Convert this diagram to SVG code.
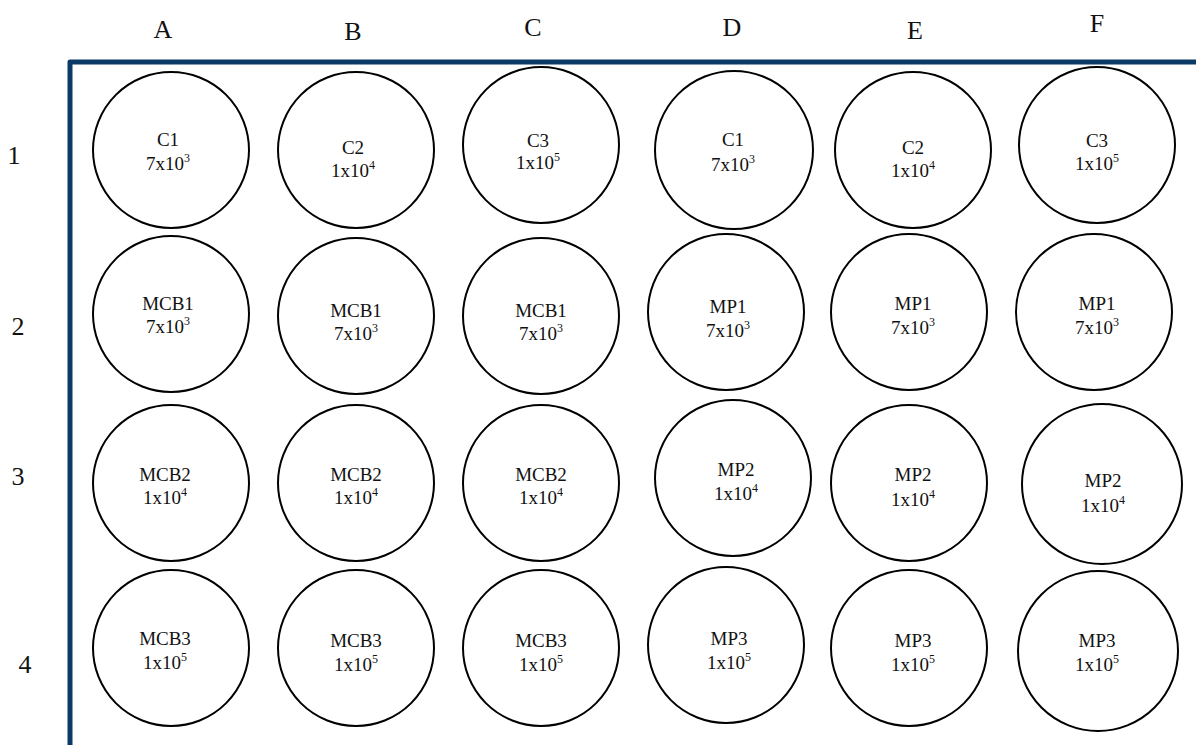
<svg xmlns="http://www.w3.org/2000/svg" width="1196" height="745" viewBox="0 0 1196 745">
<style>
.well{fill:#fff;stroke:#000;stroke-width:2}
.lbl{font-family:"Liberation Serif","Times New Roman",serif;font-size:19px;fill:#111;text-anchor:middle}
.sup{font-size:12px}
.hdr{font-family:"Liberation Serif","Times New Roman",serif;font-size:26px;fill:#111;text-anchor:middle}
</style>
<rect width="1196" height="745" fill="#fff"/>
<g id="plate-border">
<path d="M70,745 V62 H1196" fill="none" stroke="#0b3a66" stroke-width="5" stroke-linejoin="round"/>
</g>
<g id="column-headers">
<text class="hdr" x="163" y="38">A</text>
<text class="hdr" x="353" y="40">B</text>
<text class="hdr" x="533" y="36">C</text>
<text class="hdr" x="732" y="36">D</text>
<text class="hdr" x="915" y="39">E</text>
<text class="hdr" x="1097" y="32">F</text>
</g>
<g id="row-headers">
<text class="hdr" x="14" y="164">1</text>
<text class="hdr" x="18" y="335">2</text>
<text class="hdr" x="18" y="485">3</text>
<text class="hdr" x="25" y="673">4</text>
</g>
<g id="connectors"/>
<!-- Row 1 -->
<g id="A1"><circle class="well" cx="171" cy="150" r="78"/><text class="lbl" x="168" y="146">C1</text><text class="lbl" x="168" y="170">7x10<tspan class="sup" dy="-8">3</tspan></text></g>
<g id="B1"><circle class="well" cx="356" cy="150" r="78"/><text class="lbl" x="353" y="154">C2</text><text class="lbl" x="353" y="177">1x10<tspan class="sup" dy="-8">4</tspan></text></g>
<g id="C1"><circle class="well" cx="541" cy="145" r="78"/><text class="lbl" x="538" y="147">C3</text><text class="lbl" x="538" y="169">1x10<tspan class="sup" dy="-8">5</tspan></text></g>
<g id="D1"><circle class="well" cx="734" cy="150" r="79"/><text class="lbl" x="733" y="146">C1</text><text class="lbl" x="733" y="171">7x10<tspan class="sup" dy="-8">3</tspan></text></g>
<g id="E1"><circle class="well" cx="913" cy="150" r="78"/><text class="lbl" x="913" y="154">C2</text><text class="lbl" x="913" y="177">1x10<tspan class="sup" dy="-8">4</tspan></text></g>
<g id="F1"><circle class="well" cx="1097" cy="145" r="78"/><text class="lbl" x="1097" y="147">C3</text><text class="lbl" x="1097" y="170">1x10<tspan class="sup" dy="-8">5</tspan></text></g>
<!-- Row 2 -->
<g id="A2"><circle class="well" cx="171" cy="314" r="78"/><text class="lbl" x="168" y="310">MCB1</text><text class="lbl" x="168" y="333">7x10<tspan class="sup" dy="-8">3</tspan></text></g>
<g id="B2"><circle class="well" cx="356" cy="316" r="78"/><text class="lbl" x="356" y="317">MCB1</text><text class="lbl" x="356" y="340">7x10<tspan class="sup" dy="-8">3</tspan></text></g>
<g id="C2"><circle class="well" cx="541" cy="316" r="78"/><text class="lbl" x="541" y="317">MCB1</text><text class="lbl" x="541" y="340">7x10<tspan class="sup" dy="-8">3</tspan></text></g>
<g id="D2"><circle class="well" cx="726" cy="312" r="78"/><text class="lbl" x="728" y="313">MP1</text><text class="lbl" x="728" y="337">7x10<tspan class="sup" dy="-8">3</tspan></text></g>
<g id="E2"><circle class="well" cx="909" cy="312" r="78"/><text class="lbl" x="913" y="310">MP1</text><text class="lbl" x="913" y="334">7x10<tspan class="sup" dy="-8">3</tspan></text></g>
<g id="F2"><circle class="well" cx="1094" cy="312" r="78"/><text class="lbl" x="1097" y="310">MP1</text><text class="lbl" x="1097" y="334">7x10<tspan class="sup" dy="-8">3</tspan></text></g>
<!-- Row 3 -->
<g id="A3"><circle class="well" cx="171" cy="483" r="78"/><text class="lbl" x="165" y="481">MCB2</text><text class="lbl" x="165" y="504">1x10<tspan class="sup" dy="-8">4</tspan></text></g>
<g id="B3"><circle class="well" cx="356" cy="483" r="78"/><text class="lbl" x="356" y="481">MCB2</text><text class="lbl" x="356" y="504">1x10<tspan class="sup" dy="-8">4</tspan></text></g>
<g id="C3"><circle class="well" cx="541" cy="483" r="78"/><text class="lbl" x="541" y="481">MCB2</text><text class="lbl" x="541" y="504">1x10<tspan class="sup" dy="-8">4</tspan></text></g>
<g id="D3"><circle class="well" cx="733" cy="478" r="78"/><text class="lbl" x="736" y="476">MP2</text><text class="lbl" x="736" y="500">1x10<tspan class="sup" dy="-8">4</tspan></text></g>
<g id="E3"><circle class="well" cx="909" cy="483" r="78"/><text class="lbl" x="913" y="481">MP2</text><text class="lbl" x="913" y="506">1x10<tspan class="sup" dy="-8">4</tspan></text></g>
<g id="F3"><circle class="well" cx="1102" cy="484" r="80"/><text class="lbl" x="1103" y="487">MP2</text><text class="lbl" x="1103" y="512">1x10<tspan class="sup" dy="-8">4</tspan></text></g>
<!-- Row 4 -->
<g id="A4"><circle class="well" cx="171" cy="648" r="78"/><text class="lbl" x="165" y="645">MCB3</text><text class="lbl" x="165" y="669">1x10<tspan class="sup" dy="-8">5</tspan></text></g>
<g id="B4"><circle class="well" cx="356" cy="648" r="78"/><text class="lbl" x="356" y="647">MCB3</text><text class="lbl" x="356" y="671">1x10<tspan class="sup" dy="-8">5</tspan></text></g>
<g id="C4"><circle class="well" cx="541" cy="648" r="78"/><text class="lbl" x="541" y="647">MCB3</text><text class="lbl" x="541" y="671">1x10<tspan class="sup" dy="-8">5</tspan></text></g>
<g id="D4"><circle class="well" cx="726" cy="645" r="78"/><text class="lbl" x="729" y="645">MP3</text><text class="lbl" x="729" y="669">1x10<tspan class="sup" dy="-8">5</tspan></text></g>
<g id="E4"><circle class="well" cx="909" cy="648" r="78"/><text class="lbl" x="913" y="647">MP3</text><text class="lbl" x="913" y="671">1x10<tspan class="sup" dy="-8">5</tspan></text></g>
<g id="F4"><circle class="well" cx="1098" cy="651" r="80"/><text class="lbl" x="1097" y="647">MP3</text><text class="lbl" x="1097" y="671">1x10<tspan class="sup" dy="-8">5</tspan></text></g>
</svg>
